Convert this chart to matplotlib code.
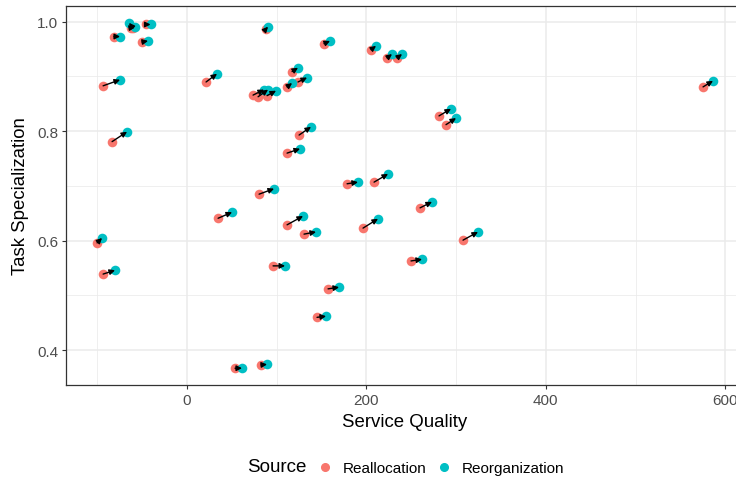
import matplotlib
matplotlib.use("Agg")
import matplotlib.pyplot as plt
from matplotlib.lines import Line2D
import numpy as np

# Reallocation -> Reorganization, one pair per row
realloc_x = [-60.2, -62.4, -45.7, -81.4, -50.2, -93.6, 21.2, -83.6, 73.6, 79.2,
             89.2, 88.1, 152.7, 205.1, 223.0, 234.1, 117.1, 111.5, 123.7, 124.9,
             111.5, 178.4, 208.5, 80.3, -100.3, -93.6, 34.6, 53.5, 82.5, 280.9,
             288.7, 259.8, 111.5, 130.4, 196.2, 307.7, 95.9, 249.7, 157.2, 144.9,
             575.3]
realloc_y = [0.989, 0.989, 0.995, 0.973, 0.963, 0.883, 0.890, 0.781, 0.866, 0.863,
             0.865, 0.987, 0.960, 0.949, 0.934, 0.934, 0.909, 0.881, 0.890, 0.793,
             0.760, 0.704, 0.707, 0.685, 0.596, 0.539, 0.641, 0.367, 0.373, 0.828,
             0.812, 0.660, 0.629, 0.612, 0.623, 0.601, 0.554, 0.563, 0.512, 0.460,
             0.881]
reorg_x = [-64.7, -58.0, -40.7, -74.7, -43.5, -74.7, 33.4, -66.9, 85.8, 90.3,
           99.2, 90.3, 159.4, 210.7, 228.5, 239.7, 123.7, 117.1, 133.8, 138.2,
           126.0, 190.6, 224.1, 97.0, -94.8, -80.3, 50.2, 61.3, 89.2, 294.3,
           299.9, 273.1, 129.3, 143.8, 212.9, 324.4, 109.3, 262.0, 169.5, 155.0,
           586.4]
reorg_y = [0.998, 0.990, 0.995, 0.973, 0.965, 0.894, 0.905, 0.799, 0.876, 0.876,
           0.874, 0.991, 0.965, 0.956, 0.941, 0.941, 0.916, 0.888, 0.898, 0.808,
           0.768, 0.707, 0.722, 0.695, 0.605, 0.546, 0.652, 0.367, 0.374, 0.841,
           0.824, 0.671, 0.645, 0.616, 0.640, 0.616, 0.554, 0.566, 0.515, 0.462,
           0.892]

sources = ["Reallocation", "Reorganization"]
colors = ["#F8766D", "#00BFC4"]

plt.rcParams["font.family"] = ["Liberation Sans", "DejaVu Sans"]

fig = plt.figure(figsize=(7.36, 4.81), dpi=100)
# panel runs past the right edge like the original crop
ax = fig.add_axes([0.0901, 0.1965, 0.9205, 0.7898])

ax.scatter(realloc_x, realloc_y, s=48, color=colors[0], linewidths=0, zorder=3)
ax.scatter(reorg_x, reorg_y, s=48, color=colors[1], linewidths=0, zorder=4)
for x0, y0, x1, y1 in zip(realloc_x, realloc_y, reorg_x, reorg_y):
    ax.annotate("", xy=(x1, y1), xytext=(x0, y0), zorder=5,
                arrowprops=dict(arrowstyle="-|>", color="black", lw=1.0,
                                mutation_scale=8, shrinkA=0, shrinkB=0))

# ggplot-ish 5% expansion
allx = np.r_[realloc_x, reorg_x]
ally = np.r_[realloc_y, reorg_y]
dx = (allx.max() - allx.min()) * 0.05
dy = (ally.max() - ally.min()) * 0.05
ax.set_xlim(allx.min() - dx, allx.max() + dx)
ax.set_ylim(ally.min() - dy, ally.max() + dy)

ax.set_xticks([0, 200, 400, 600])
ax.set_yticks([0.4, 0.6, 0.8, 1.0])
ax.set_yticklabels(["0.4", "0.6", "0.8", "1.0"])
ax.set_xticks([-100, 100, 300, 500], minor=True)
ax.set_yticks([0.5, 0.7, 0.9], minor=True)
ax.grid(which="major", color="#EBEBEB", lw=1.1)
ax.grid(which="minor", color="#EBEBEB", lw=0.55)
ax.set_axisbelow(True)
ax.tick_params(which="major", length=3.2, width=0.8, color="#333333",
               labelcolor="#4D4D4D", labelsize=11, pad=2.5)
ax.tick_params(which="minor", length=0)
for s in ax.spines.values():
    s.set_color("#333333")
    s.set_linewidth(0.9)

ax.set_xlabel("Service Quality", fontsize=13.4, labelpad=4)
ax.set_ylabel("Task Specialization", fontsize=13.4, labelpad=6)

handles = [Line2D([], [], marker="o", ls="", color=c, markersize=5.5) for c in colors]
fig.text(247 / 736, 1 - 468 / 481, "Source", fontsize=13.5, ha="left", va="center")
fig.legend(handles, sources, loc="center left", ncol=2, frameon=False,
           bbox_to_anchor=(317 / 736, 1 - 469 / 481), fontsize=11.0,
           handlelength=1.0, handletextpad=0.7, columnspacing=0.6,
           borderpad=0, borderaxespad=0)

fig.savefig("out.png", dpi=100)
